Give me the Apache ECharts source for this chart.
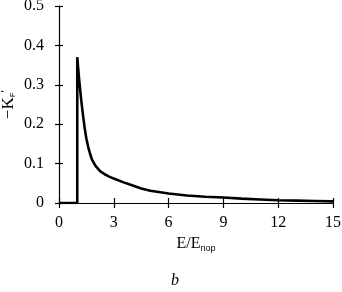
<!DOCTYPE html>
<html>
<head>
<meta charset="utf-8">
<script src="https://cdn.jsdelivr.net/npm/echarts@6/dist/echarts.min.js"></script>
<style>
  html, body { margin: 0; padding: 0; background: #fff; }
  #chart { width: 342px; height: 292px; }
</style>
</head>
<body>
<div id="chart"></div>
<script>
// E/E_пор values and -K_F'
const energyRatio = [0, 1, 1, 1.05, 1.1, 1.2, 1.3, 1.4, 1.5, 1.6, 1.7, 1.8, 2, 2.25, 2.5, 2.75, 3, 3.5, 4, 4.5, 5, 6, 7, 8, 9, 10, 11, 12, 13, 14, 15];
const kValues = [0, 0, 0.37, 0.342, 0.315, 0.268, 0.228, 0.192, 0.163, 0.142, 0.125, 0.111, 0.094, 0.081, 0.073, 0.067, 0.062, 0.053, 0.045, 0.037, 0.031, 0.024, 0.019, 0.016, 0.014, 0.011, 0.009, 0.007, 0.006, 0.005, 0.004];
const xTicks = [0, 3, 6, 9, 12, 15];
const yTicks = [0, 0.1, 0.2, 0.3, 0.4, 0.5];

const font = '"Liberation Serif", "DejaVu Serif", serif';
const chart = echarts.init(document.getElementById('chart'));

const option = {
    animation: false,
    title: {
        text: 'b',
        left: 166,
        top: 268,
        textStyle: { fontFamily: font, fontStyle: 'italic', fontWeight: 'normal', fontSize: 16, color: '#000' }
    },
    grid: { left: 59, right: 9, top: 6, bottom: 89, containLabel: false, outerBoundsMode: 'none' },
    xAxis: [
        {
            type: 'value',
            min: xTicks[0],
            max: xTicks[xTicks.length - 1],
            interval: 3,
            name: 'E/E{sub|пор}',
            nameLocation: 'middle',
            nameGap: 30,
            nameTextStyle: {
                fontFamily: font, fontSize: 16, color: '#000',
                rich: { sub: { fontFamily: 'Liberation Sans', fontSize: 9, color: '#000', padding: [9, 0, 0, 0] } }
            },
            axisLine: { lineStyle: { color: '#000', width: 1.2 } },
            axisTick: { length: 5, lineStyle: { color: '#000', width: 1.2 } },
            axisLabel: { fontFamily: font, fontSize: 16, color: '#000', margin: 12, showMaxLabel: true },
            splitLine: { show: false }
        },
        {
            type: 'value',
            position: 'bottom',
            min: xTicks[0],
            max: xTicks[xTicks.length - 1],
            interval: 3,
            axisLine: { show: false },
            axisTick: { inside: true, length: 5, lineStyle: { color: '#000', width: 1.2 } },
            axisLabel: { show: false },
            splitLine: { show: false }
        }
    ],
    yAxis: [
        {
            type: 'value',
            min: yTicks[0],
            max: yTicks[yTicks.length - 1],
            interval: 0.1,
            name: '−K{sub|F}{sup|′}',
            nameLocation: 'middle',
            nameRotate: 90,
            nameGap: 41,
            nameMoveOverlap: false,
            nameTextStyle: {
                fontFamily: font, fontSize: 17, color: '#000',
                rich: {
                    sub: { fontFamily: 'Liberation Sans', fontSize: 8, color: '#000', padding: [8, 0, 0, 0] },
                    sup: { fontFamily: font, fontSize: 12, color: '#000', padding: [0, 0, 6, 0] }
                }
            },
            axisLine: { show: true, lineStyle: { color: '#000', width: 1.2 } },
            axisTick: { show: true, length: 4, lineStyle: { color: '#000', width: 1.2 } },
            axisLabel: {
                fontFamily: font, fontSize: 16, color: '#000', margin: 15,
                formatter: function (v) { return v === 0 ? '0' : v.toFixed(1); }
            },
            splitLine: { show: false }
        },
        {
            type: 'value',
            position: 'left',
            min: yTicks[0],
            max: yTicks[yTicks.length - 1],
            interval: 0.1,
            axisLine: { show: false },
            axisTick: { show: true, inside: true, length: 4, lineStyle: { color: '#000', width: 1.2 } },
            axisLabel: { show: false },
            splitLine: { show: false }
        }
    ],
    series: [{
        type: 'line',
        data: energyRatio.map((x, i) => [x, kValues[i]]),
        showSymbol: false,
        smooth: false,
        lineStyle: { color: '#000', width: 2.6 },
        itemStyle: { color: '#000' }
    }]
};

chart.setOption(option);
</script>
</body>
</html>
